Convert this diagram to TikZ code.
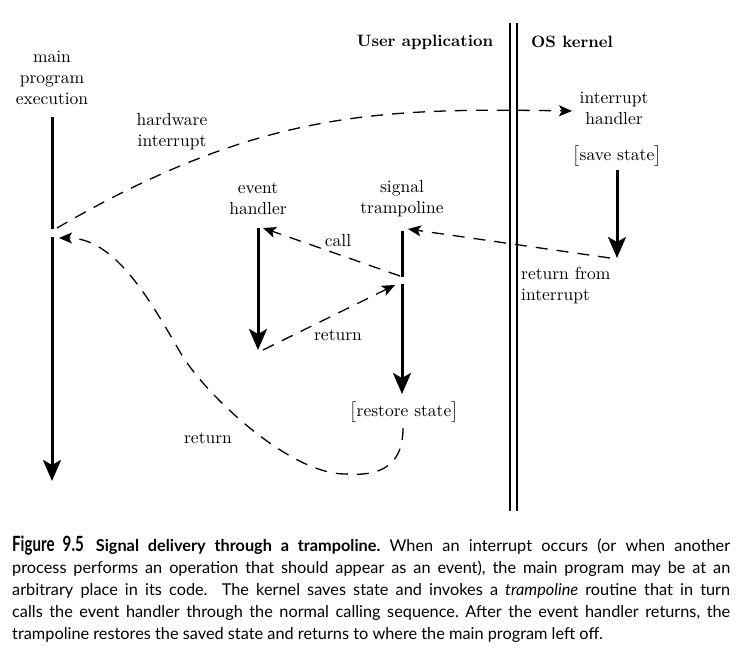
\documentclass[tikz,border=0pt]{standalone}
\usepackage{amsmath}
\usepackage{fontspec}
\setmainfont{lmroman10-regular}[Extension=.otf, BoldFont=lmroman10-bold, ItalicFont=lmroman10-italic]
\newfontfamily\capfont{Lato}
\newfontfamily\figfont[FakeStretch=0.72]{Lato}
\usepackage{tikz}
\usetikzlibrary{arrows.meta,positioning}
\tikzstyle{flow} = [line width=3pt, -{Stealth[length=21pt,width=18pt,inset=5pt]}]
\tikzstyle{jump} = [line width=1.3pt, dash pattern=on 12pt off 9pt, -{Stealth[length=13pt,width=11pt,inset=3pt]}]
\tikzstyle{lbl} = [align=center, inner sep=0pt, font=\fontsize{17.5}{21}\selectfont]
\tikzstyle{head} = [inner sep=0pt, font=\bfseries\fontsize{16.5}{20}\selectfont]

\begin{document}
\begin{tikzpicture}[x=1pt, y=-1pt, every node/.style={lbl}]
		\useasboundingbox (0,0) rectangle (741,665);
		
		% headings and the user/kernel boundary
		\node (user) [head] at (425,42) {User application};
		\node (kernel) [head] at (572,42) {OS kernel};
		\draw [line width=1.2pt] (510,23) -- (510,511);
		\draw [line width=1.2pt] (517,23) -- (517,511);
		
		% main program
		\node (main) at (52,78) {main\\program\\execution};
		\coordinate (m1) at (52,117);
		\coordinate (m2) at (52,229);
		\coordinate (m3) at (52,237);
		\coordinate (m4) at (52,481);
		\draw [line width=3pt] (m1) -- (m2);
		\draw [flow] (m3) -- (m4);
		
		% interrupt into the kernel
		\node (hwlbl) at (172,132) {hardware\\interrupt};
		\node (intr) at (614,108) {interrupt\\handler};
		\node (save) at (617,156) {$\bigl[$save state$\bigr]$};
		\coordinate (hw) at (57,228);
		\coordinate (hwend) at (572,111);
		\draw [jump] (hw) .. controls (260,110) and (380,108) .. (hwend);
		\coordinate (s1) at (617,170);
		\coordinate (s2) at (617,258);
		\draw [flow] (s1) -- (s2);
		
		% back out to the trampoline
		\node (rtilbl) [anchor=west, align=left] at (521,286) {return from\\interrupt};
		\node (tramp) at (402,199) {signal\\trampoline};
		\coordinate (rti) at (610,258);
		\coordinate (trtip) at (408,229);
		\draw [jump] (rti) -- (trtip);
		\coordinate (t1) at (402,231);
		\coordinate (t2) at (402,277);
		\coordinate (t3) at (402,284);
		\coordinate (t4) at (402,394);
		\draw [line width=3pt] (t1) -- (t2);
		\draw [flow] (t3) -- (t4);
		\node (restore) at (404,412) {$\bigl[$restore state$\bigr]$};
		
		% event handler
		\node (event) at (258,199) {event\\handler};
		\coordinate (e1) at (258,228);
		\coordinate (e2) at (258,350);
		\draw [flow] (e1) -- (e2);
		
		\node (calllbl) at (338,241) {call};
		\coordinate (callfrom) at (400,276);
		\coordinate (callto) at (263,228);
		\draw [jump] (callfrom) -- (callto);
		
		\node (retlbl) at (338,335) {return};
		\coordinate (retfrom) at (263,350);
		\coordinate (retto) at (395,285);
		\draw [jump] (retfrom) -- (retto);
		
		% return to the main program
		\node (backlbl) at (208,438) {return};
		\coordinate (rs) at (403,428);
		\coordinate (bot) at (345,474);
		\coordinate (mid) at (180,352);
		\coordinate (back) at (59,238);
		\draw [jump] (rs) .. controls (403,470) and (375,476) .. (bot)
			.. controls (290,474) and (205,395) .. (mid)
			.. controls (150,300) and (115,238) .. (back);
		
		% caption
		\node (caption) [anchor=north west, align=justify, text width=718pt,
			font=\capfont\fontsize{16.3}{22}\selectfont\frenchspacing] at (12,536) {%
			{\figfont\bfseries\fontsize{21}{22}\selectfont Figure 9.5}\hspace{12pt}{\bfseries Signal delivery through a trampoline.} When an interrupt occurs (or when another\linebreak
			process performs an operation that should appear as an event), the main program may be at an\linebreak
			arbitrary place in its code.\ \ The kernel saves state and invokes a \textit{trampoline} routine that in turn\linebreak
			calls the event handler through the normal calling sequence. After the event handler returns, the\linebreak
			trampoline restores the saved state and returns to where the main program left off.};
	\end{tikzpicture}
\end{document}
